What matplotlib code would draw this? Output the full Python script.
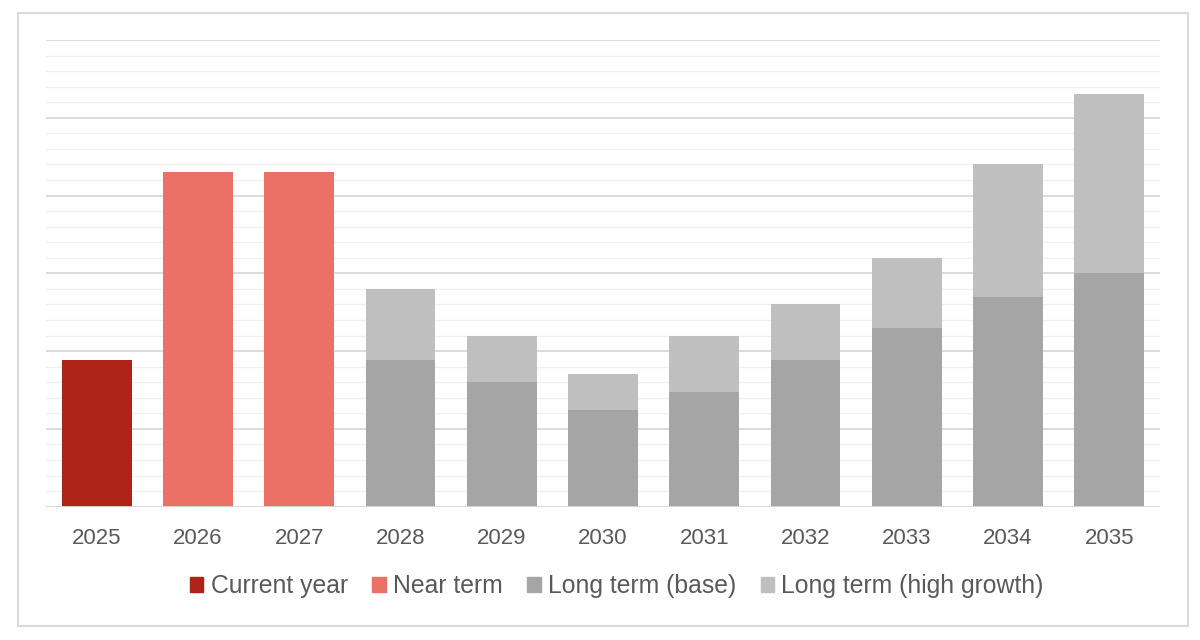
import numpy as np
import matplotlib.pyplot as plt
from matplotlib.patches import Rectangle, Patch

plt.rcParams['font.family'] = ['Liberation Sans', 'DejaVu Sans']

years = ["2025", "2026", "2027", "2028", "2029", "2030", "2031", "2032", "2033", "2034", "2035"]
current_year = [9.45, 0, 0, 0, 0, 0, 0, 0, 0, 0, 0]
near_term = [0, 21.5, 21.5, 0, 0, 0, 0, 0, 0, 0, 0]
long_base = [0, 0, 0, 9.45, 8.0, 6.2, 7.4, 9.45, 11.5, 13.5, 15.0]
long_total = [0, 0, 0, 14.0, 11.0, 8.5, 11.0, 13.0, 16.0, 22.0, 26.5]
long_high = [t - b for t, b in zip(long_total, long_base)]

c_current = "#ae2318"
c_near = "#eb7066"
c_base = "#a5a5a5"
c_high = "#bfbfbf"

fig = plt.figure(figsize=(12, 6.4), dpi=100)
ax = fig.add_axes([46 / 1200, 1 - 506.7 / 640, 1114 / 1200, (506.7 - 40) / 640])

x = np.arange(len(years))
w = 0.69
ax.bar(x, current_year, w, color=c_current, zorder=3)
ax.bar(x, near_term, w, color=c_near, zorder=3)
ax.bar(x, long_base, w, color=c_base, zorder=3)
ax.bar(x, long_high, w, bottom=long_base, color=c_high, zorder=3)

ax.set_xlim(-0.5, len(years) - 0.5)
ax.set_ylim(0, 30)
ax.set_yticks(np.arange(0, 31, 5))
ax.set_yticks(np.arange(0, 31, 1), minor=True)
ax.yaxis.grid(True, which="major", color="#d9d9d9", linewidth=1.3, zorder=0)
ax.yaxis.grid(True, which="minor", color="#f0f0f0", linewidth=1.0, zorder=0)
ax.set_yticklabels([])
ax.tick_params(axis="y", which="both", length=0)
ax.tick_params(axis="x", length=0, pad=15, labelsize=16, labelcolor="#595959")
ax.set_xticks(x)
ax.set_xticklabels(years)
for s in ax.spines.values():
    s.set_visible(False)
ax.axhline(0, color="#d9d9d9", linewidth=1.3, zorder=4)

handles = [Patch(color=c_current, label="Current year"),
           Patch(color=c_near, label="Near term"),
           Patch(color=c_base, label="Long term (base)"),
           Patch(color=c_high, label="Long term (high growth)")]
fig.legend(handles=handles, loc="center", bbox_to_anchor=(617 / 1200, 1 - 586 / 640),
           ncol=4, frameon=False, fontsize=17.8, labelcolor="#595959",
           handlelength=0.53, handleheight=0.53, handletextpad=0.3, columnspacing=1.0)

# outer frame
fig.patches.append(Rectangle((18 / 1200, 1 - 626 / 640), 1170 / 1200, 613 / 640,
                             transform=fig.transFigure, fill=False,
                             edgecolor="#d9d9d9", linewidth=1.5))

fig.savefig("out.png", dpi=100, facecolor="white")
